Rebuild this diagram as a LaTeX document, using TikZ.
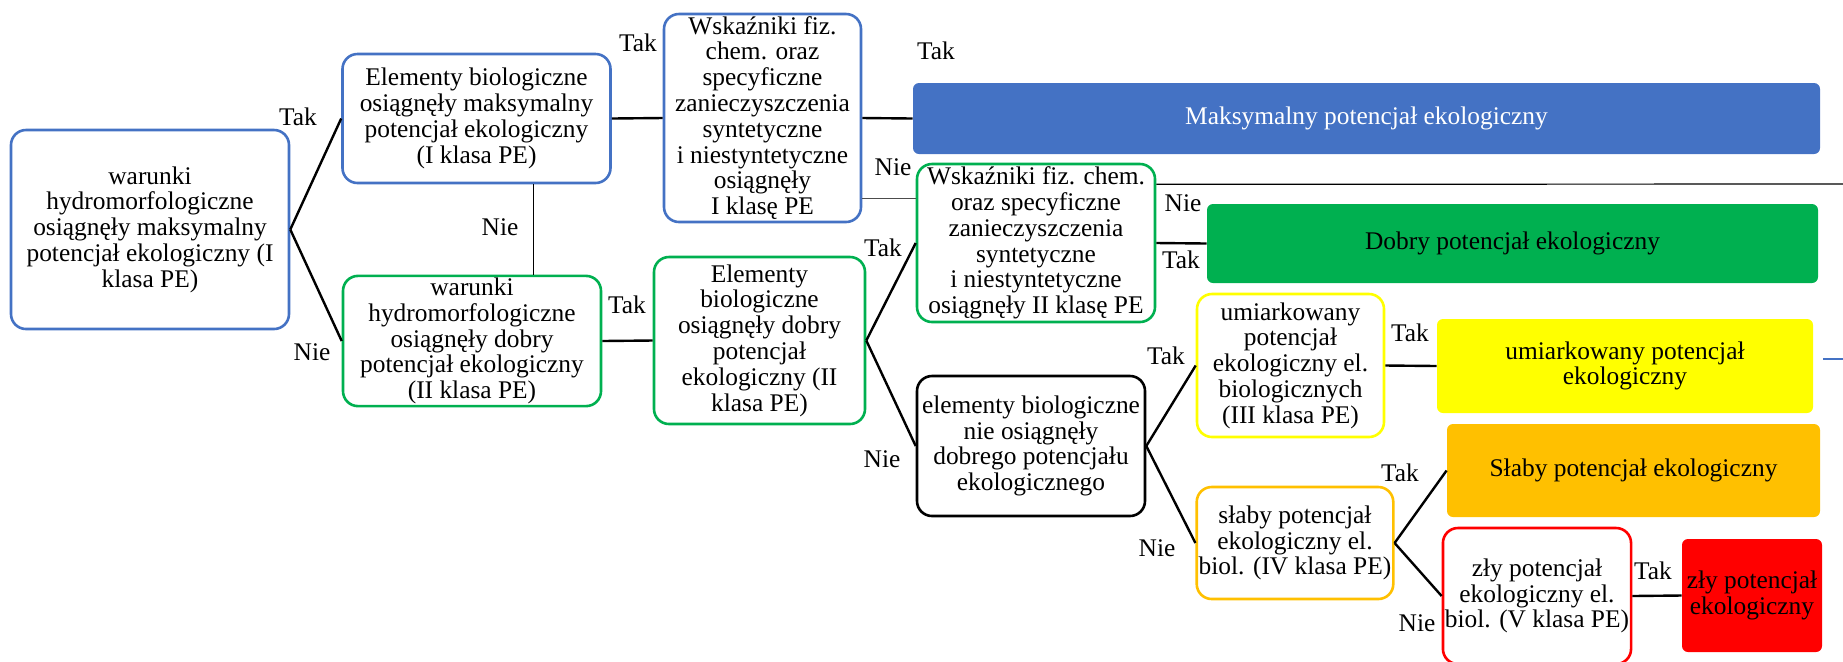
\documentclass[tikz,border=0pt]{standalone}
\usepackage{fontspec}
\setmainfont{Liberation Serif}
\definecolor{peblue}{HTML}{4472C4}
\definecolor{pegreen}{HTML}{00B050}
\definecolor{peyellow}{HTML}{FFFF00}
\definecolor{peorange}{HTML}{FFC000}
\definecolor{pered}{HTML}{FF0000}
\newcommand{\boxfont}{\fontsize{12.7}{12.9}\selectfont}
\tikzset{
  decbox/.style={draw, line width=1.3pt, rounded corners=7.5pt, align=center, inner sep=1pt, fill=white, font=\boxfont},
  resbox/.style={rounded corners=3pt, align=center, inner sep=1pt, font=\boxfont},
  link/.style={line width=1.2pt},
  thinlink/.style={line width=0.6pt},
  answer/.style={inner sep=0pt, font=\boxfont}
}

\begin{document}
\begin{tikzpicture}[x=0.5pt, y=-0.5pt]
\useasboundingbox (0,0) rectangle (1843,661);
\node[decbox, draw=peblue, minimum width=139pt, minimum height=99.5pt] (wA) at (150,229.5) {warunki\\hydromorfologiczne\\osiągnęły maksymalny\\potencjał ekologiczny (I\\klasa PE)};
\node[decbox, draw=peblue, minimum width=134pt, minimum height=64.5pt] (elB) at (476.5,118.5) {Elementy biologiczne\\osiągnęły maksymalny\\potencjał ekologiczny\\(I klasa PE)};
\node[decbox, draw=peblue, minimum width=98.5pt, minimum height=104pt] (wsC) at (762.5,118) {Wskaźniki fiz.\\chem. oraz\\specyficzne\\zanieczyszczenia\\syntetyczne\\i niestyntetyczne\\osiągnęły\\I klasę PE};
\node[resbox, fill=peblue, text=white, minimum width=453.5pt, minimum height=35.5pt] (maxPE) at (1366.5,118.5) {Maksymalny potencjał ekologiczny};
\node[decbox, draw=pegreen, minimum width=129pt, minimum height=65pt] (wD) at (472,341) {warunki\\hydromorfologiczne\\osiągnęły dobry\\potencjał ekologiczny\\(II klasa PE)};
\node[decbox, draw=pegreen, minimum width=105.5pt, minimum height=83.5pt] (elE) at (759.5,340.5) {Elementy\\biologiczne\\osiągnęły dobry\\potencjał\\ekologiczny (II\\klasa PE)};
\node[decbox, draw=pegreen, minimum width=119pt, minimum height=79pt] (wsF) at (1036,243) {Wskaźniki fiz. chem.\\oraz specyficzne\\zanieczyszczenia\\syntetyczne\\i niestyntetyczne\\osiągnęły II klasę PE};
\node[resbox, fill=pegreen, minimum width=305.5pt, minimum height=39.5pt] (goodPE) at (1512.5,243.5) {Dobry potencjał ekologiczny};
\node[decbox, draw=black, minimum width=114pt, minimum height=70pt] (elG) at (1031,446) {elementy biologiczne\\nie osiągnęły\\dobrego potencjału\\ekologicznego};
\node[decbox, draw=peyellow, minimum width=93.5pt, minimum height=71.5pt] (umH) at (1290.5,365.5) {umiarkowany\\potencjał\\ekologiczny el.\\biologicznych\\(III klasa PE)};
\node[resbox, fill=peyellow, minimum width=188pt, minimum height=47pt] (modPE) at (1625,366) {umiarkowany potencjał\\ekologiczny};
\node[decbox, draw=peorange, minimum width=98pt, minimum height=56pt] (slI) at (1295,543) {słaby potencjał\\ekologiczny el.\\biol. (IV klasa PE)};
\node[resbox, fill=peorange, minimum width=186.5pt, minimum height=46.5pt] (weakPE) at (1633.5,470.5) {Słaby potencjał ekologiczny};
\node[decbox, draw=pered, minimum width=91pt, minimum height=68pt] (zlJ) at (1537,596) {zły potencjał\\ekologiczny el.\\biol. (V klasa PE)};
\node[resbox, fill=pered, minimum width=70pt, minimum height=56.5pt] (badPE) at (1752,595.5) {zły potencjał\\ekologiczny};
\coordinate (edgeF) at (1843,184);
\coordinate (stubL) at (1823,359);
\coordinate (stubR) at (1843,359);

\draw[link] (wA.east) -- (elB.west);
\draw[link] (wA.east) -- (wD.west);
\draw[thinlink] (elB.-49) -- (elB.-49 |- wD.north);
\draw[link] (elB.east) -- (wsC.west);
\draw[link] (wsC.east) -- (maxPE.west);
\draw[thinlink, black!70] (wsC.-39) -- (wsC.-39 -| wsF.west);
\draw[thinlink] (wsF.26) -- (edgeF);
\draw[link] (wsF.east) -- (goodPE.west);
\draw[link] (wD.east) -- (elE.west);
\draw[link] (elE.east) -- (wsF.west);
\draw[link] (elE.east) -- (elG.west);
\draw[link] (elG.east) -- (umH.west);
\draw[link] (elG.east) -- (slI.west);
\draw[link] (umH.east) -- (modPE.west);
\draw[link] (slI.east) -- (weakPE.west);
\draw[link] (slI.east) -- (zlJ.west);
\draw[link] (zlJ.east) -- (badPE.west);
\draw[thinlink, peblue] (stubL) -- (stubR);

\node[answer] (tAB) at (298,117) {Tak};
\node[answer] (nAD) at (312,352) {Nie};
\node[answer] (nBD) at (500,227) {Nie};
\node[answer] (tBC) at (638,43) {Tak};
\node[answer] (tDE) at (627,305) {Tak};
\node[answer] (tCM) at (936,51) {Tak};
\node[answer] (nCF) at (893,167) {Nie};
\node[answer] (nFE) at (1183,203) {Nie};
\node[answer] (tFG) at (1181,260) {Tak};
\node[answer] (tEF) at (883,248) {Tak};
\node[answer] (nEG) at (882,459) {Nie};
\node[answer] (tGH) at (1166,356) {Tak};
\node[answer] (nGI) at (1157,548) {Nie};
\node[answer] (tHM) at (1410,333) {Tak};
\node[answer] (tIW) at (1400,473) {Tak};
\node[answer] (nIJ) at (1417,623) {Nie};
\node[answer] (tJB) at (1653,571) {Tak};
\end{tikzpicture}
\end{document}
